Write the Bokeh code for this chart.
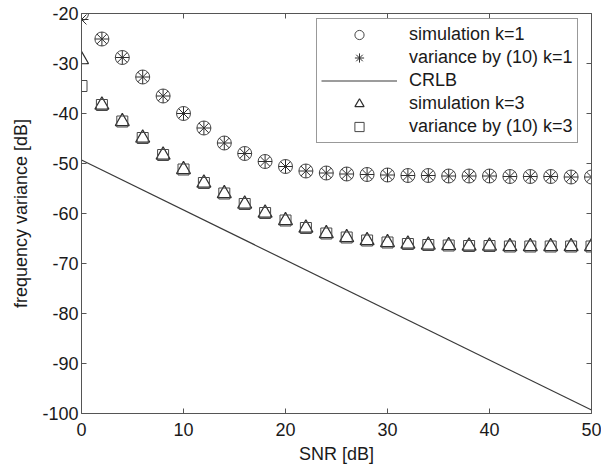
from bokeh.plotting import figure
from bokeh.models import Range1d, LinearAxis, FixedTicker, Legend, LegendItem
from bokeh.embed import file_html
from bokeh.resources import INLINE

# ---- data ----
snr = [0, 2, 4, 6, 8, 10, 12, 14, 16, 18, 20, 22, 24, 26, 28, 30, 32, 34, 36, 38, 40, 42, 44, 46, 48, 50]
sim_k1 = [-20.0, -25.1, -28.8, -32.7, -36.5, -40.0, -42.9, -45.9, -48.0, -49.6, -50.6, -51.5, -51.9,
          -52.1, -52.2, -52.3, -52.4, -52.4, -52.5, -52.5, -52.5, -52.6, -52.6, -52.6, -52.7, -52.7]
var_k1 = [-21.2, -25.1, -28.8, -32.7, -36.5, -40.0, -42.9, -45.9, -48.0, -49.6, -50.6, -51.5, -51.9,
          -52.1, -52.2, -52.3, -52.4, -52.4, -52.5, -52.5, -52.5, -52.6, -52.6, -52.6, -52.7, -52.7]
sim_k3 = [-29.2, -38.3, -41.6, -44.9, -48.3, -51.2, -53.9, -56.0, -58.1, -59.9, -61.4, -62.9, -64.0,
          -64.8, -65.4, -65.8, -66.1, -66.3, -66.4, -66.5, -66.5, -66.6, -66.6, -66.6, -66.6, -66.6]
var_k3 = [-34.5, -38.3, -41.6, -44.9, -48.3, -51.2, -53.9, -56.0, -58.1, -59.9, -61.4, -62.9, -64.0,
          -64.8, -65.4, -65.8, -66.1, -66.3, -66.4, -66.5, -66.5, -66.6, -66.6, -66.6, -66.6, -66.6]
crlb_snr = [0, 50]
crlb = [-49.3, -99.3]

x_ticks = [0, 10, 20, 30, 40, 50]
y_ticks = [-100, -90, -80, -70, -60, -50, -40, -30, -20]

labels = ["simulation k=1", "variance by (10) k=1", "CRLB", "simulation k=3", "variance by (10) k=3"]

FONT = "Liberation Sans"
TXT = "#1a1a1a"
AX = "#555555"
MK = "#474747"

p = figure(width=601, height=468, output_backend="svg", toolbar_location=None,
           x_range=Range1d(0, 50), y_range=Range1d(-100, -20),
           min_border_left=81, min_border_right=10, min_border_top=13, min_border_bottom=55,
           x_axis_label="SNR [dB]", y_axis_label="frequency variance [dB]")
p.grid.visible = False
p.outline_line_color = None
p.background_fill_color = "white"
p.border_fill_color = "white"

p.xaxis.ticker = FixedTicker(ticks=x_ticks)
p.yaxis.ticker = FixedTicker(ticks=y_ticks)
p.xaxis.major_label_overrides = {t: str(t) for t in x_ticks}
p.yaxis.major_label_overrides = {t: str(t) for t in y_ticks}

for ax in (p.xaxis[0], p.yaxis[0]):
    ax.axis_line_color = AX
    ax.axis_line_width = 1
    ax.major_tick_line_color = AX
    ax.major_tick_in = 5
    ax.major_tick_out = 0
    ax.minor_tick_line_color = None
    ax.major_label_text_font = FONT
    ax.major_label_text_font_size = "18px"
    ax.major_label_text_color = TXT
    ax.axis_label_text_font = FONT
    ax.axis_label_text_font_size = "18px"
    ax.axis_label_text_font_style = "normal"
    ax.axis_label_text_color = TXT

p.xaxis.major_label_text_line_height = 0.8
p.xaxis.axis_label_text_line_height = 0.8
p.xaxis.major_label_standoff = 9
p.xaxis.axis_label_standoff = 5
p.yaxis.major_label_standoff = 3
p.yaxis.axis_label_standoff = 8

# box axes (top / right) with inward ticks, no labels
for side, ticks in (("above", x_ticks), ("right", y_ticks)):
    ax = LinearAxis(ticker=FixedTicker(ticks=ticks))
    ax.axis_line_color = AX
    ax.major_tick_line_color = AX
    ax.major_tick_in = 5
    ax.major_tick_out = 0
    ax.minor_tick_line_color = None
    ax.major_label_text_font_size = "0px"
    ax.major_label_text_color = None
    ax.major_label_standoff = 0
    p.add_layout(ax, side)

r_crlb = p.line(crlb_snr, crlb, line_color="#3a3a3a", line_width=1.2)
r_s1 = p.scatter(snr, sim_k1, marker="circle", size=14, fill_color=None, line_color=MK, line_width=1)
r_v1 = p.scatter(snr, var_k1, marker="asterisk", size=14, line_color="#2e2e2e", line_width=1)
r_s3 = p.scatter(snr, sim_k3, marker="triangle", size=14, fill_color=None, line_color="#2e2e2e", line_width=1.2)
r_v3 = p.scatter(snr, var_k3, marker="square", size=11, fill_color=None, line_color=MK, line_width=1)

legend = Legend(items=[LegendItem(label=labels[0], renderers=[r_s1]),
                       LegendItem(label=labels[1], renderers=[r_v1]),
                       LegendItem(label=labels[2], renderers=[r_crlb]),
                       LegendItem(label=labels[3], renderers=[r_s3]),
                       LegendItem(label=labels[4], renderers=[r_v3])],
                location=(235, 270), padding=4, spacing=0,
                glyph_width=76, glyph_height=23, label_height=23, label_standoff=12,
                label_text_font=FONT, label_text_font_size="18px", label_text_color=TXT,
                border_line_color="#333333", border_line_width=1,
                background_fill_color="white", background_fill_alpha=1)
p.add_layout(legend)

open("out.html", "w").write(file_html(p, INLINE))
